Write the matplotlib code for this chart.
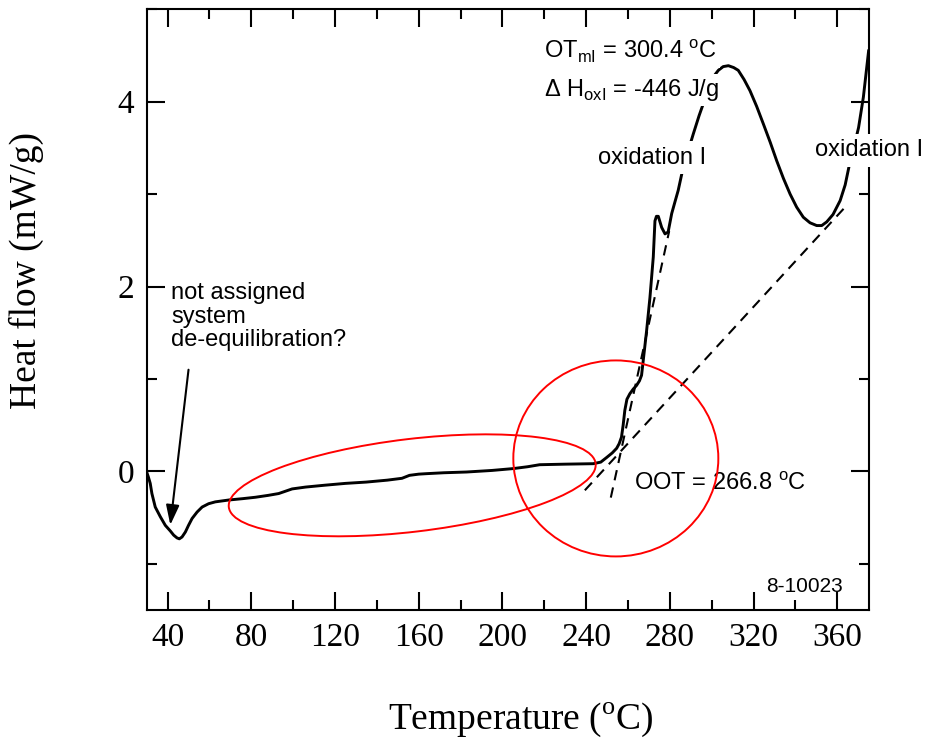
import matplotlib
matplotlib.use("Agg")
import matplotlib.pyplot as plt
from matplotlib.patches import Ellipse
from matplotlib.ticker import MultipleLocator
from matplotlib.transforms import ScaledTranslation

plt.rcParams["font.family"] = "Liberation Serif"
plt.rcParams["mathtext.fontset"] = "custom"
plt.rcParams["mathtext.rm"] = "Liberation Serif"
plt.rcParams["mathtext.sf"] = "Liberation Sans"

# DSC trace
temperature = [
    29.9, 30.8, 31.7, 32.5, 34.1, 36.5, 38.9, 41.3, 42.9, 44.5, 45.6, 46.9,
    48.5, 50.0, 51.7, 54.1, 56.5, 59.6, 62.8, 69.2, 76, 82, 88, 93.1, 99.5,
    105.9, 115, 125, 134.9, 145, 152, 155.6, 160, 163.6, 172, 182.8, 195,
    205.1, 212, 217.8, 230, 243.4, 247, 249.8, 252.5, 254.6, 255.8, 256.9,
    257.7, 258.5, 259.5, 260.9, 262.5, 264.1, 265.5, 266.5, 267.3, 268.9,
    270.5, 272.1, 272.9, 273.6, 274.5, 275.3, 276.1, 277.7, 279.2, 280.9,
    282.5, 284.0, 286.4, 288.8, 291.2, 294.0, 296.8, 298.5, 300.0, 301.5,
    303.2, 305.5, 308.0, 310.5, 312.7, 315.5, 318.3, 321.5, 324.7, 328.0,
    331.1, 334.3, 337.5, 340.6, 343.8, 347.0, 350.2, 352.6, 355.0, 358.0,
    361.4, 363.8, 366.2, 368.2, 370.2, 372.5, 375.0,
]
heat_flow = [
    0.0, -0.06, -0.13, -0.24, -0.386, -0.49, -0.584, -0.645, -0.69, -0.72,
    -0.73, -0.71, -0.656, -0.584, -0.51, -0.44, -0.386, -0.35, -0.33, -0.31,
    -0.295, -0.28, -0.26, -0.24, -0.19, -0.17, -0.15, -0.13, -0.116, -0.095,
    -0.075, -0.043, -0.03, -0.025, -0.015, -0.007, 0.01, 0.03, 0.05, 0.072,
    0.078, 0.083, 0.1, 0.15, 0.2, 0.25, 0.3, 0.37, 0.5, 0.66, 0.78, 0.84,
    0.89, 0.93, 0.98, 1.04, 1.2, 1.52, 1.88, 2.32, 2.71, 2.76, 2.76, 2.70,
    2.64, 2.57, 2.59, 2.79, 2.92, 3.04, 3.29, 3.47, 3.65, 3.85, 4.03, 4.14,
    4.22, 4.29, 4.34, 4.38, 4.39, 4.37, 4.34, 4.24, 4.12, 3.95, 3.76, 3.56,
    3.36, 3.17, 3.0, 2.86, 2.75, 2.69, 2.66, 2.66, 2.70, 2.78, 2.93, 3.10,
    3.36, 3.53, 3.72, 4.05, 4.55,
]

# tangents used for the onset construction (start, end)
baseline_tangent_t = [239.4, 363.8]
baseline_tangent_hf = [-0.205, 2.86]
onset_tangent_t = [251.8, 279.7]
onset_tangent_hf = [-0.284, 2.6]

x_ticks = [40, 80, 120, 160, 200, 240, 280, 320, 360]
y_ticks = [0, 2, 4]

fig = plt.figure(figsize=(9.36, 7.4), dpi=100)
ax = fig.add_axes([0.1567, 0.1757, 0.7713, 0.8117])

ax.plot(temperature, heat_flow, color="black", lw=2.1, zorder=3,
        solid_joinstyle="round")
ax.plot(baseline_tangent_t, baseline_tangent_hf, color="black", lw=1.5,
        linestyle=(0, (5, 3.5)))
ax.plot(onset_tangent_t, onset_tangent_hf, color="black", lw=1.5,
        linestyle=(0, (5, 3.5)))

# red highlight ellipses: centre in data units, size in inches
for (cx, cy), w, h, ang in [((156.9, -0.151), 3.694, 0.928, 6.78),
                            ((254.2, 0.14), 2.05, 1.96, 0)]:
    ax.add_patch(Ellipse((0, 0), w, h, angle=ang, fill=False, ec="red", lw=1.4,
                         transform=fig.dpi_scale_trans + ScaledTranslation(cx, cy, ax.transData),
                         zorder=4))

sans = dict(family="Liberation Sans", fontsize=17)
white = dict(facecolor="white", edgecolor="none", pad=2)
ax.text(219.9, 4.46, "OT$_\\mathsf{mI}$ = 300.4 $^\\mathsf{o}$C", va="baseline",
        bbox=white, zorder=5, **sans)
ax.text(219.9, 4.06, "\u0394 H$_\\mathsf{oxI}$ = -446 J/g", va="baseline",
        bbox=white, zorder=5, **sans)
ax.text(245.6, 3.33, "oxidation I", va="baseline", bbox=dict(white, pad=4),
        zorder=5, **sans)
ax.text(349.4, 3.41, "oxidation I", va="baseline", bbox=dict(white, pad=4),
        zorder=5, clip_on=False, **sans)
ax.text(263.0, -0.205, "OOT = 266.8 $^\\mathsf{o}$C", va="baseline", **sans)
ax.text(326.0, -1.305, "8-10023", va="baseline", family="Liberation Sans",
        fontsize=15)
ax.text(41.6, 2.05, "not assigned\nsystem\nde-equilibration?", va="top",
        linespacing=1.1, **sans)
ax.annotate("", xy=(41.3, -0.58), xytext=(50.0, 1.10),
            arrowprops=dict(arrowstyle="-|>,head_length=0.6,head_width=0.2",
                            color="black", lw=1.5, mutation_scale=20,
                            shrinkA=0, shrinkB=0))

ax.set_xlim(30, 375)
ax.set_ylim(-1.5, 5)
ax.set_xticks(x_ticks)
ax.set_yticks(y_ticks)
ax.xaxis.set_minor_locator(MultipleLocator(20))
ax.yaxis.set_minor_locator(MultipleLocator(1))
ax.tick_params(which="both", direction="in", top=True, right=True, width=1.5,
               labelsize=24)
ax.tick_params(which="major", length=13)
ax.tick_params(which="minor", length=7)
ax.tick_params(axis="x", pad=9)
ax.tick_params(axis="y", pad=9)
for s in ax.spines.values():
    s.set_linewidth(1.5)

ax.set_xlabel("Temperature ($^\\mathrm{o}$C)", fontsize=27)
ax.set_ylabel("Heat flow (mW/g)", fontsize=27)
ax.xaxis.set_label_coords(0.518, -0.15)
ax.yaxis.set_label_coords(-0.142, 0.566)

fig.savefig("out.png", dpi=100)
